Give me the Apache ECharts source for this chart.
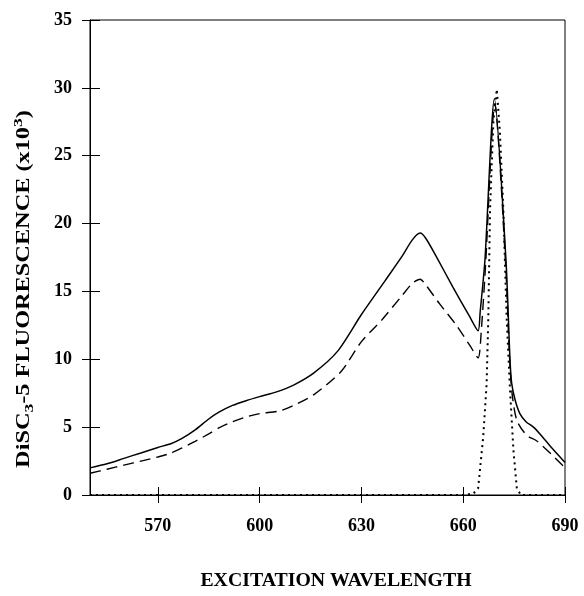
<!DOCTYPE html>
<html>
<head>
<meta charset="utf-8">
<script src="https://cdn.jsdelivr.net/npm/echarts@6/dist/echarts.min.js"></script>
<style>
  html, body { margin: 0; padding: 0; background: #fff; }
  #chart { width: 584px; height: 596px; }
</style>
</head>
<body>
<div id="chart"></div>
<script>
// excitation spectra, values (x10^3)
var xTicks = [570, 600, 630, 660, 690];

var solidX = [550, 555, 560, 565, 570, 574, 577, 581, 585, 588, 592, 596, 600, 605, 610, 616, 623, 630, 637, 642, 645, 647.3, 649, 652, 657, 662, 664.4, 665, 666.4, 669.2, 672.6, 673.8, 674.3, 675.3, 676.7, 678.5, 680.7, 682.6, 686, 690];
var solidY = [2.0, 2.3, 2.7, 3.1, 3.5, 3.8, 4.15, 4.8, 5.6, 6.1, 6.6, 6.95, 7.25, 7.6, 8.1, 9.0, 10.6, 13.3, 15.8, 17.6, 18.8, 19.3, 18.9, 17.6, 15.3, 13.1, 12.1, 13.5, 17.3, 29.2, 17.3, 9.9, 8.2, 7.0, 6.0, 5.4, 5.0, 4.5, 3.5, 2.4];

var dashX = [550, 555, 560, 565, 570, 574, 577, 581, 585, 588, 592, 596, 600, 606, 610, 616, 624, 630, 636, 642, 645, 647.3, 649.2, 653, 658, 662, 664.4, 665.3, 666.6, 669.3, 672.5, 673.5, 674.3, 675.8, 678.7, 681.6, 686, 690];
var dashY = [1.6, 1.9, 2.2, 2.5, 2.8, 3.1, 3.45, 3.95, 4.5, 4.95, 5.4, 5.75, 6.0, 6.2, 6.6, 7.4, 9.1, 11.3, 12.9, 14.7, 15.6, 15.9, 15.4, 14.1, 12.5, 11.0, 10.1, 12.0, 17.0, 28.8, 17.0, 11.0, 7.7, 5.5, 4.4, 4.0, 3.0, 2.0];

var dotX = [550, 660, 663, 664.4, 665.9, 666.9, 667.4, 667.9, 668.9, 669.9, 670.8, 671.8, 672.8, 673.8, 674.8, 675.8, 677, 690];
var dotY = [0, 0, 0.1, 0.5, 4.3, 8.2, 13.1, 21, 27.6, 29.9, 26.8, 21.2, 13.1, 7.7, 3.3, 0.5, 0, 0];

function pairs(xs, ys) {
    return xs.map(function (x, i) { return [x, ys[i]]; });
}

var serif = '"Liberation Serif", "DejaVu Serif", serif';

var chart = echarts.init(document.getElementById('chart'));

var xBase = {
    type: 'value',
    position: 'bottom',
    min: 550,
    max: 690,
    splitLine: { show: false }
};
var yBase = {
    type: 'value',
    position: 'left',
    min: 0,
    max: 35,
    interval: 5,
    splitLine: { show: false }
};

chart.setOption({
    animation: false,
    grid: {
        left: 90,
        right: 19,
        top: 20,
        bottom: 101,
        show: true,
        borderColor: '#000',
        borderWidth: 1
    },
    xAxis: [
        Object.assign({}, xBase, {
            axisLine: { lineStyle: { color: '#000', width: 1 } },
            axisTick: { customValues: xTicks, length: 8, lineStyle: { color: '#000' } },
            axisLabel: {
                customValues: xTicks,
                margin: 22,
                color: '#000',
                fontFamily: serif,
                fontWeight: 'bold',
                fontSize: 18
            }
        }),
        Object.assign({}, xBase, {
            axisLine: { show: false },
            axisTick: { customValues: xTicks, inside: true, length: 8, lineStyle: { color: '#000' } },
            axisLabel: { show: false }
        })
    ],
    yAxis: [
        Object.assign({}, yBase, {
            axisLine: { show: true, lineStyle: { color: '#000', width: 1 } },
            axisTick: { show: true, length: 8, lineStyle: { color: '#000' } },
            axisLabel: {
                margin: 18,
                color: '#000',
                fontFamily: serif,
                fontWeight: 'bold',
                fontSize: 18
            }
        }),
        Object.assign({}, yBase, {
            axisLine: { show: false },
            axisTick: { show: true, inside: true, length: 10, lineStyle: { color: '#000' } },
            axisLabel: { show: false }
        })
    ],
    graphic: [
        {
            type: 'text',
            x: 336,
            y: 581,
            scaleX: 1.1,
            style: {
                text: 'EXCITATION WAVELENGTH',
                fill: '#000',
                font: 'bold 18px ' + serif,
                align: 'center',
                verticalAlign: 'middle'
            }
        },
        {
            type: 'text',
            x: 24,
            y: 289,
            rotation: Math.PI / 2,
            scaleX: 1.35,
            style: {
                text: 'DiSC{sub|3}-5 FLUORESCENCE (x10{sup|3})',
                fill: '#000',
                font: 'bold 18px ' + serif,
                align: 'center',
                verticalAlign: 'middle',
                rich: {
                    sub: { font: 'bold 13px ' + serif, fill: '#000', padding: [11, 0, 0, 0] },
                    sup: { font: 'bold 13px ' + serif, fill: '#000', padding: [0, 0, 11, 0] }
                }
            }
        }
    ],
    series: [
        {
            name: 'solid',
            type: 'line',
            data: pairs(solidX, solidY),
            showSymbol: false,
            smooth: 0.25,
            lineStyle: { color: '#000', width: 1.5, type: 'solid' }
        },
        {
            name: 'dashed',
            type: 'line',
            data: pairs(dashX, dashY),
            showSymbol: false,
            smooth: 0.25,
            lineStyle: { color: '#000', width: 1.4, type: [11, 6] }
        },
        {
            name: 'dotted',
            type: 'line',
            data: pairs(dotX, dotY),
            showSymbol: false,
            lineStyle: { color: '#000', width: 2, type: [2, 4] }
        }
    ]
});
</script>
</body>
</html>
